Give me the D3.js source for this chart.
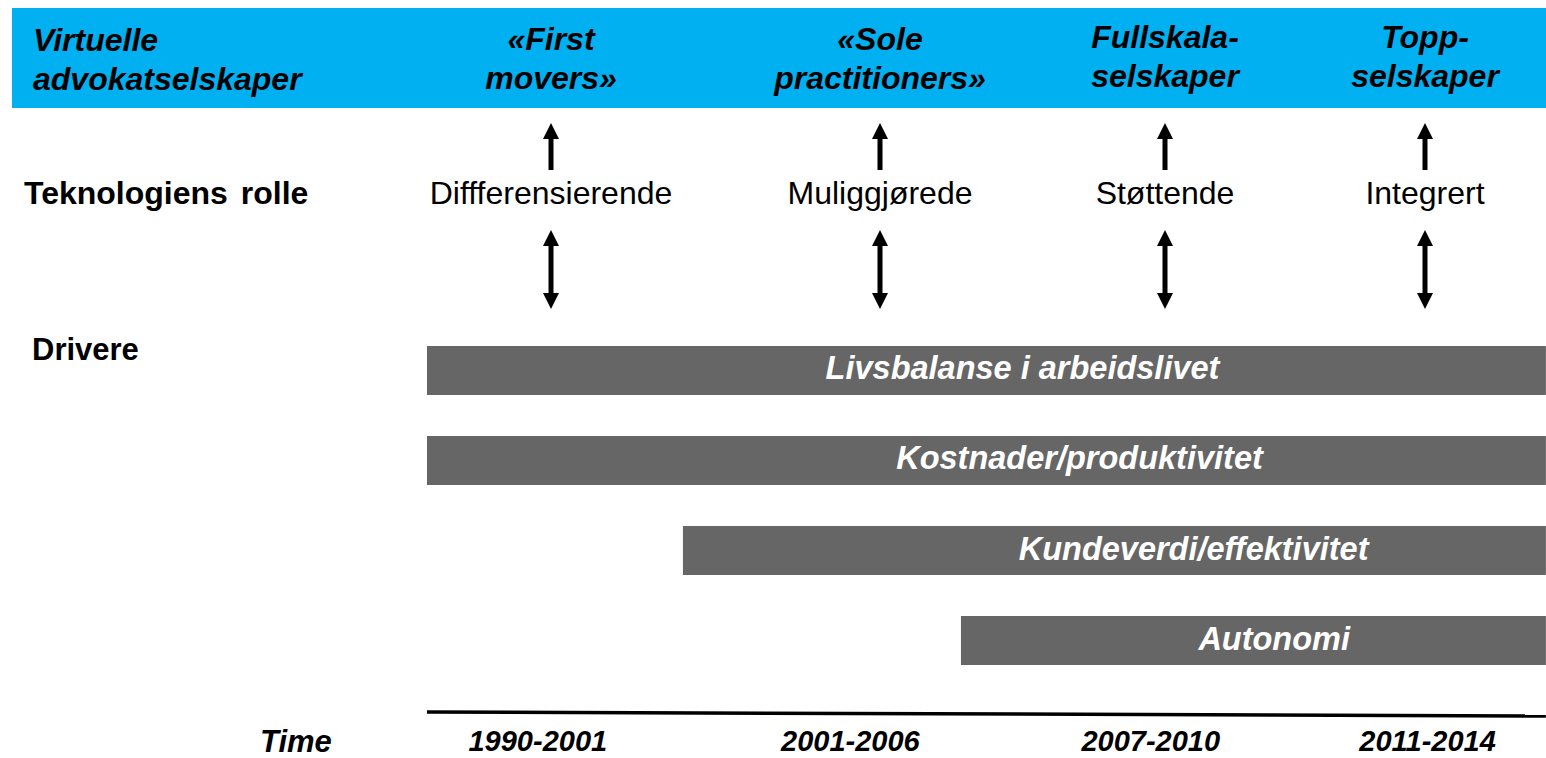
<!DOCTYPE html>
<html>
<head>
<meta charset="utf-8">
<script src="https://cdn.jsdelivr.net/npm/d3@7"></script>
<style>
  body { margin: 0; background: #fff; }
  svg text { font-family: "Liberation Sans", Arial, sans-serif; }
  .head { font-weight: bold; font-style: italic; font-size: 32px; fill: #000; }
  .row-label { font-weight: bold; font-size: 31px; fill: #000; }
  .role { font-size: 32px; fill: #000; }
  .driver-label { font-weight: bold; font-style: italic; font-size: 32.5px; fill: #fff; }
  .time-label { font-weight: bold; font-style: italic; font-size: 29px; fill: #000; }
</style>
</head>
<body>
<div id="chart"></div>
<script>
// phases along the time line
const phases = ['1990-2001', '2001-2006', '2007-2010', '2011-2014'];
const firmTypes = [['«First', 'movers»'], ['«Sole', 'practitioners»'], ['Fullskala-', 'selskaper'], ['Topp-', 'selskaper']];
const techRoles = ['Diffferensierende', 'Muliggjørede', 'Støttende', 'Integrert'];

// drivers, start/end and label anchor in phase units
const drivers = ['Livsbalanse i arbeidslivet', 'Kostnader/produktivitet', 'Kundeverdi/effektivitet', 'Autonomi'];
const driverStart = [-0.377, -0.377, 0.401, 1.284];
const driverEnd = [3.465, 3.465, 3.465, 3.465];
const driverLabelAt = [1.50, 1.70, 2.11, 2.42];
const timeLabelAt = [-0.04, 0.91, 1.95, 3.01];

const width = 1546, height = 758;
const BLUE = '#00B0F0', GREY = '#666666';

const svg = d3.select('#chart').append('svg')
  .attr('width', width)
  .attr('height', height);

// phase scale (not evenly spaced on the slide)
const x = d3.scaleLinear()
  .domain([0, 1, 2, 3])
  .range([551, 880, 1165, 1425]);

const y = d3.scaleBand()
  .domain(drivers)
  .range([346, 665])
  .paddingInner(0.4556)
  .paddingOuter(0);

// header band
svg.append('rect')
  .attr('x', 12).attr('y', 8)
  .attr('width', width - 12).attr('height', 100)
  .attr('fill', BLUE);

const headLeft = svg.append('text').attr('class', 'head').attr('x', 33);
headLeft.append('tspan').attr('x', 33).attr('y', 51).text('Virtuelle');
headLeft.append('tspan').attr('x', 33).attr('y', 90).text('advokatselskaper');

svg.append('g')
  .selectAll('text')
  .data(firmTypes)
  .enter().append('text')
    .attr('class', 'head')
    .attr('text-anchor', 'middle')
    .each(function(d, i) {
      const t = d3.select(this);
      const base = i < 2 ? 50 : 48;
      d.forEach((line, j) => {
        t.append('tspan').attr('x', x(i)).attr('y', base + j * 39).text(line);
      });
    });

// row labels
svg.append('text').attr('class', 'row-label').attr('x', 24).attr('y', 204)
  .style('word-spacing', '4px')
  .style('font-size', '32px')
  .text('Teknologiens rolle');
svg.append('text').attr('class', 'row-label').attr('x', 32).attr('y', 360).text('Drivere');

svg.append('g')
  .selectAll('text')
  .data(techRoles)
  .enter().append('text')
    .attr('class', 'role')
    .attr('text-anchor', 'middle')
    .attr('x', (d, i) => x(i))
    .attr('y', 204)
    .text(d => d);

// arrows
const head = 16, half = 8, shaft = 2.5;
function upArrow(cx, top, bottom) {
  return `M${cx},${top} L${cx + half},${top + head} L${cx + shaft},${top + head} L${cx + shaft},${bottom}
    L${cx - shaft},${bottom} L${cx - shaft},${top + head} L${cx - half},${top + head} Z`;
}
function doubleArrow(cx, top, bottom) {
  return `M${cx},${top} L${cx + half},${top + head} L${cx + shaft},${top + head} L${cx + shaft},${bottom - head}
    L${cx + half},${bottom - head} L${cx},${bottom} L${cx - half},${bottom - head} L${cx - shaft},${bottom - head}
    L${cx - shaft},${top + head} L${cx - half},${top + head} Z`;
}

const arrows = svg.append('g').attr('class', 'arrows');
arrows.selectAll('.up')
  .data(phases)
  .enter().append('path')
    .attr('class', 'up')
    .attr('d', (d, i) => upArrow(x(i), 123, 170))
    .attr('fill', '#000');
arrows.selectAll('.both')
  .data(phases)
  .enter().append('path')
    .attr('class', 'both')
    .attr('d', (d, i) => doubleArrow(x(i), 230, 309))
    .attr('fill', '#000');

// driver bars
const bars = svg.append('g').attr('class', 'drivers');
bars.selectAll('rect')
  .data(drivers)
  .enter().append('rect')
    .attr('x', (d, i) => x(driverStart[i]))
    .attr('y', d => y(d))
    .attr('width', (d, i) => x(driverEnd[i]) - x(driverStart[i]))
    .attr('height', y.bandwidth())
    .attr('fill', GREY);

bars.selectAll('text')
  .data(drivers)
  .enter().append('text')
    .attr('class', 'driver-label')
    .attr('text-anchor', 'middle')
    .attr('x', (d, i) => x(driverLabelAt[i]))
    .attr('y', d => y(d) + y.bandwidth() / 2 + 9)
    .text(d => d);

// time line
svg.append('line')
  .attr('x1', x(driverStart[0])).attr('y1', 712)
  .attr('x2', x(driverEnd[0])).attr('y2', 716)
  .attr('stroke', '#000')
  .attr('stroke-width', 3.5);

svg.append('text').attr('class', 'time-label').attr('x', 260).attr('y', 752)
  .style('font-size', '31px')
  .text('Time');

svg.append('g')
  .selectAll('text')
  .data(phases)
  .enter().append('text')
    .attr('class', 'time-label')
    .attr('text-anchor', 'middle')
    .attr('x', (d, i) => x(timeLabelAt[i]))
    .attr('y', 751)
    .text(d => d);
</script>
</body>
</html>
